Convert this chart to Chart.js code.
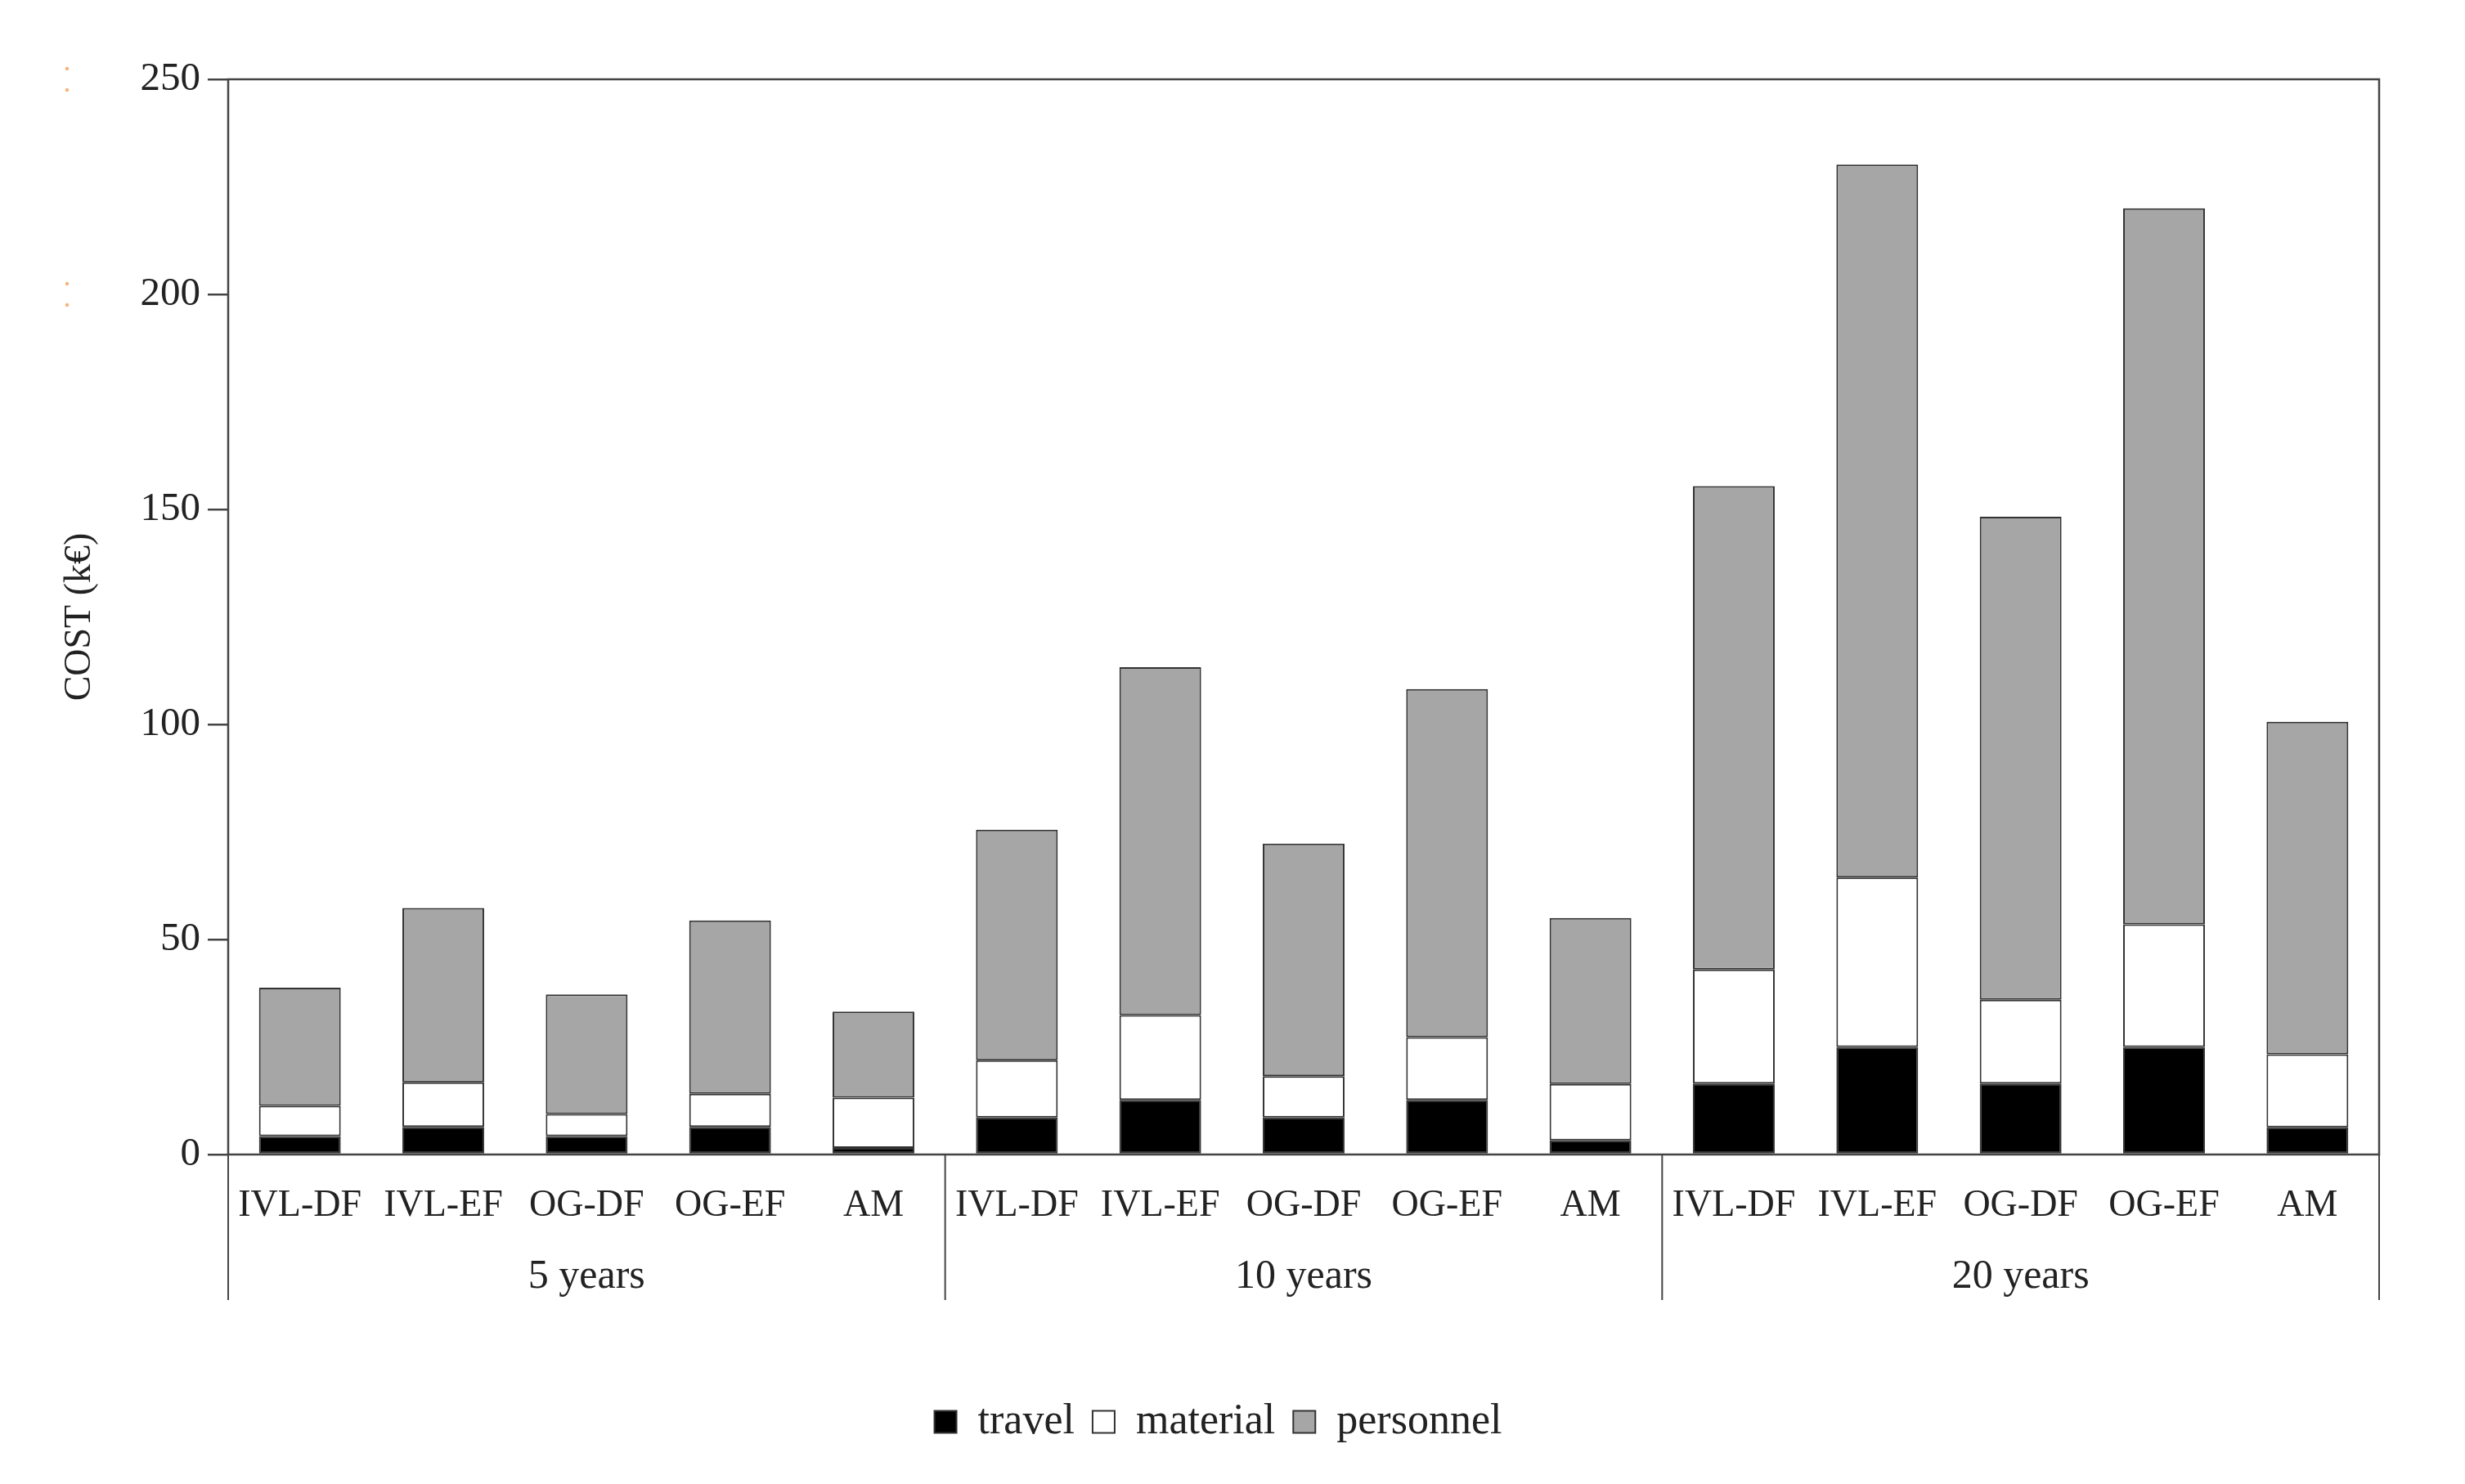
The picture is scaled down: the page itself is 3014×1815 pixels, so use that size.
<!DOCTYPE html>
<html>
<head>
<meta charset="utf-8">
<script src="https://cdn.jsdelivr.net/npm/chart.js@4.4.1/dist/chart.umd.min.js"></script>
<style>
  html, body { margin: 0; padding: 0; background: #fff; }
  #wrap { width: 3014px; height: 1815px; }
</style>
</head>
<body>
<div id="wrap"><canvas id="chart" width="3014" height="1815"></canvas></div>
<script>
// categories per bar, grouped by period
const categories = ['IVL-DF', 'IVL-EF', 'OG-DF', 'OG-EF', 'AM',
                    'IVL-DF', 'IVL-EF', 'OG-DF', 'OG-EF', 'AM',
                    'IVL-DF', 'IVL-EF', 'OG-DF', 'OG-EF', 'AM'];
const groups = ['5 years', '10 years', '20 years'];
const groupSize = 5;

// cost components in k€
const travel    = [4.3, 6.4, 4.3, 6.4, 1.5,   8.6, 12.7, 8.6, 12.7, 3.3,   16.5, 25.0, 16.5, 25.0, 6.3];
const material  = [7.0, 10.4, 5.1, 7.7, 11.7, 13.3, 19.7, 9.6, 14.6, 13.1,  26.5, 39.4, 19.5, 28.5, 17.0];
const personnel = [27.5, 40.5, 27.8, 40.3, 20.0, 53.6, 80.9, 54.1, 80.9, 38.6, 112.4, 165.8, 112.3, 166.5, 77.3];

const yTicks = [0, 50, 100, 150, 200, 250];

const FONT = '"Liberation Serif", "DejaVu Serif", serif';
const LINE = '#444';

// frame, group separators and group labels
const groupAxis = {
  id: 'groupAxis',
  afterDraw(chart) {
    const ctx = chart.ctx;
    const a = chart.chartArea;
    const x = chart.scales.x;
    ctx.save();
    ctx.strokeStyle = LINE;
    ctx.lineWidth = 2.5;
    ctx.strokeRect(a.left, a.top, a.right - a.left, a.bottom - a.top);

    const sepBottom = a.bottom + 178;
    const bounds = [a.left];
    for (let g = 1; g < groups.length; g++) {
      const i = g * groupSize;
      bounds.push((x.getPixelForValue(i - 1) + x.getPixelForValue(i)) / 2);
    }
    bounds.push(a.right);
    ctx.lineWidth = 2;
    bounds.forEach(b => {
      ctx.beginPath();
      ctx.moveTo(b, a.bottom);
      ctx.lineTo(b, sepBottom);
      ctx.stroke();
    });

    ctx.fillStyle = '#222';
    ctx.font = '50px ' + FONT;
    ctx.textAlign = 'center';
    ctx.textBaseline = 'middle';
    groups.forEach((g, k) => {
      ctx.fillText(g, (bounds[k] + bounds[k + 1]) / 2, a.bottom + 150);
    });

    // faint orange marks left of the axis
    ctx.fillStyle = '#f6b27a';
    [a.top, chart.scales.y.getPixelForValue(200)].forEach(py => {
      ctx.beginPath(); ctx.arc(82, py - 13, 2.2, 0, Math.PI * 2); ctx.fill();
      ctx.beginPath(); ctx.arc(82, py + 13, 2.2, 0, Math.PI * 2); ctx.fill();
    });
    ctx.restore();
  }
};

new Chart(document.getElementById('chart'), {
  type: 'bar',
  data: {
    labels: categories,
    datasets: [
      { label: 'travel', data: travel, backgroundColor: '#000000' },
      { label: 'material', data: material, backgroundColor: '#ffffff' },
      { label: 'personnel', data: personnel, backgroundColor: '#a6a6a6' }
    ].map(d => Object.assign(d, {
      borderColor: '#333333',
      borderWidth: 2,
      borderSkipped: false,
      barPercentage: 0.57,
      categoryPercentage: 1.0
    }))
  },
  options: {
    responsive: false,
    animation: false,
    layout: { padding: { left: 70, right: 105, top: 97, bottom: 40 } },
    plugins: {
      legend: {
        position: 'bottom',
        labels: {
          color: '#222',
          font: { family: FONT, size: 52 },
          boxWidth: 27,
          boxHeight: 27,
          padding: 22
        }
      },
      tooltip: { enabled: false }
    },
    scales: {
      x: {
        stacked: true,
        grid: { display: false },
        border: { display: false },
        ticks: {
          color: '#222',
          font: { family: FONT, size: 46 },
          padding: 27,
          maxRotation: 0,
          autoSkip: false
        },
        afterFit(s) { s.height = 279; }
      },
      y: {
        stacked: true,
        min: 0,
        max: 250,
        afterBuildTicks(s) { s.ticks = yTicks.map(v => ({ value: v })); },
        afterFit(s) { s.width = 209; },
        grid: {
          drawOnChartArea: false,
          drawTicks: true,
          tickLength: 25,
          color: LINE,
          lineWidth: 2.5
        },
        border: { display: false },
        ticks: {
          color: '#222',
          font: { family: FONT, size: 49 },
          padding: 9
        },
        title: {
          display: true,
          text: 'COST (k€)',
          color: '#222',
          font: { family: FONT, size: 46 },
          padding: { top: 0, bottom: 0 }
        }
      }
    }
  },
  plugins: [groupAxis]
});
</script>
</body>
</html>
